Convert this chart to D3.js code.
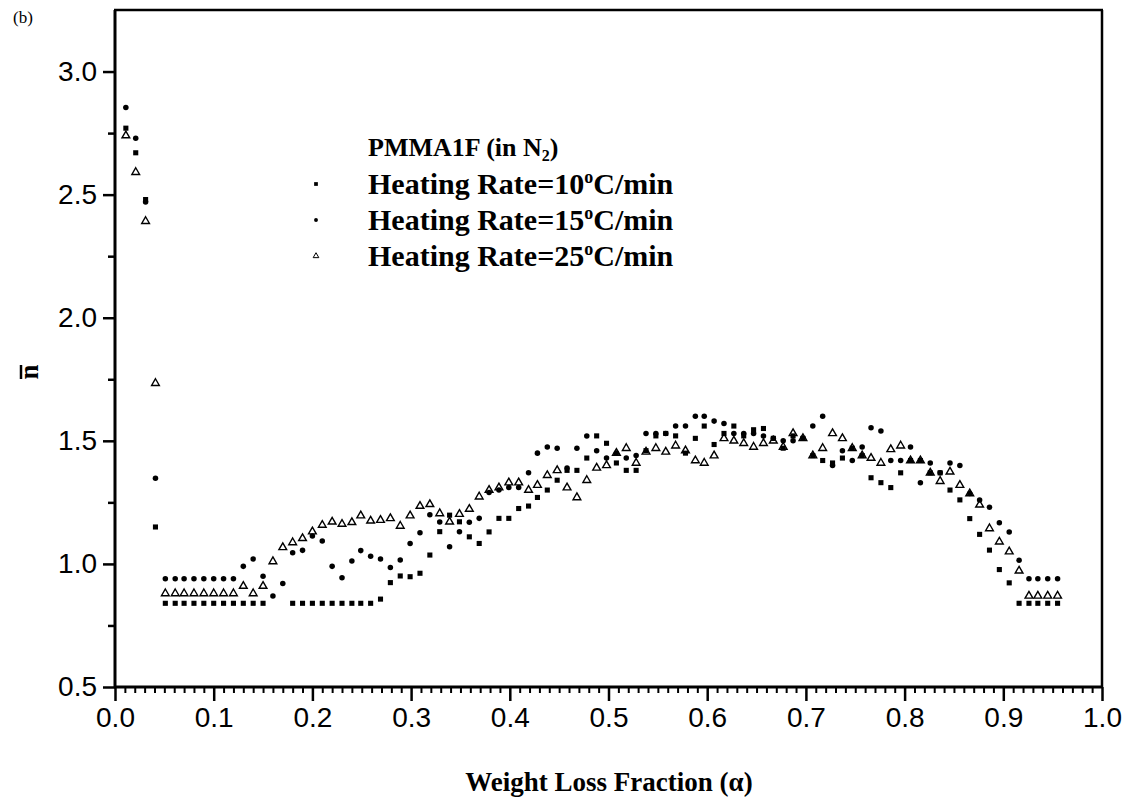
<!DOCTYPE html>
<html><head><meta charset="utf-8">
<script src="https://cdn.jsdelivr.net/npm/d3@7"></script>
<style>body{margin:0;background:#fff}</style>
</head><body><svg id="c" width="1126" height="803"></svg>
<script>
// Weight loss fraction (alpha) sample positions
const alpha = [0.011,0.021,0.031,0.041,0.051,0.061,0.070,0.080,0.090,0.100,
0.110,0.120,0.130,0.140,0.150,0.160,0.170,0.180,0.190,0.200,
0.210,0.220,0.230,0.240,0.249,0.259,0.269,0.279,0.289,0.299,
0.309,0.319,0.329,0.339,0.349,0.359,0.369,0.379,0.389,0.399,
0.409,0.419,0.428,0.438,0.448,0.458,0.468,0.478,0.488,0.498,
0.508,0.518,0.528,0.538,0.548,0.558,0.568,0.578,0.588,0.597,
0.607,0.617,0.627,0.637,0.647,0.657,0.667,0.677,0.687,0.697,
0.707,0.717,0.727,0.737,0.747,0.757,0.766,0.776,0.786,0.796,
0.806,0.816,0.826,0.836,0.846,0.856,0.866,0.876,0.886,0.896,
0.906,0.916,0.926,0.935,0.945,0.955];

// Heating rate 10 C/min (squares)
const rate10 = [2.77,2.67,2.48,1.15,0.84,0.84,0.84,0.84,0.84,0.84,
0.84,0.84,0.84,0.84,0.84,null,null,0.84,0.84,0.84,
0.84,0.84,0.84,0.84,0.84,0.84,0.857,0.924,0.951,0.948,
0.962,1.036,1.131,1.198,1.171,1.11,1.083,1.13,1.185,1.185,
1.225,1.235,1.27,1.30,1.34,1.38,1.38,1.43,1.52,1.49,
1.41,1.38,1.38,1.46,1.52,1.53,1.52,1.45,1.51,1.56,
1.485,1.53,1.56,1.52,1.545,1.55,1.51,1.47,1.52,1.51,
1.44,1.42,1.41,1.43,1.47,1.44,1.35,1.33,1.31,1.37,
1.42,1.42,1.37,1.37,1.30,1.26,1.184,1.12,1.056,0.977,
0.923,0.84,0.84,0.84,0.84,0.84];

// Heating rate 15 C/min (dots)
const rate15 = [2.854,2.729,2.47,1.348,0.94,0.94,0.94,0.94,0.94,0.94,
0.94,0.94,0.99,1.02,0.95,0.87,0.92,1.045,1.055,1.113,
1.093,0.99,0.944,1.012,1.054,1.031,1.02,0.985,1.016,1.083,
1.127,1.20,1.17,1.07,1.131,1.169,1.185,1.29,1.30,1.31,
1.31,1.37,1.45,1.475,1.47,1.39,1.47,1.52,1.46,1.43,
1.45,1.43,1.44,1.53,1.53,1.53,1.56,1.56,1.60,1.60,
1.58,1.57,1.53,1.53,1.53,1.52,1.51,1.50,1.50,1.51,
1.56,1.60,1.40,1.46,1.42,1.475,1.553,1.54,1.42,1.42,
1.475,1.33,1.41,1.37,1.41,1.40,1.286,1.26,1.23,1.167,
1.13,1.015,0.94,0.94,0.94,0.94];

// Heating rate 25 C/min (open triangles)
const rate25 = [2.74,2.591,2.392,1.734,0.88,0.88,0.88,0.88,0.88,0.88,
0.88,0.88,0.91,0.88,0.91,1.01,1.067,1.087,1.104,1.131,
1.158,1.171,1.162,1.169,1.196,1.175,1.178,1.185,1.154,1.196,
1.235,1.242,1.205,1.171,1.202,1.223,1.273,1.30,1.31,1.33,
1.33,1.30,1.32,1.36,1.38,1.31,1.27,1.34,1.39,1.40,
1.45,1.47,1.41,1.455,1.47,1.455,1.48,1.46,1.42,1.41,
1.44,1.51,1.50,1.49,1.475,1.49,1.50,1.475,1.53,1.51,
1.44,1.47,1.53,1.51,1.47,1.44,1.43,1.41,1.465,1.48,
1.42,1.42,1.37,1.336,1.374,1.32,1.286,1.24,1.144,1.09,
1.05,0.972,0.87,0.87,0.87,0.87];

const xTicks = [0.0,0.1,0.2,0.3,0.4,0.5,0.6,0.7,0.8,0.9,1.0];
const yTicks = [0.5,1.0,1.5,2.0,2.5,3.0];
const yMinorTicks = [0.75,1.25,1.75,2.25,2.75];
const legendTitle = "PMMA1F (in N";
const legendRates = ["10","15","25"];

const L = 115, R = 1102, T = 10, B = 687;
const svg = d3.select("#c");
const x = d3.scaleLinear().domain([0,1]).range([L,R]);
const y = d3.scaleLinear().domain([0.5,3.25]).range([B,T]);

const xMinor = d3.range(0,101).map(i=>i/100).filter(v=>Math.round(v*100)%10!==0);

// minor x ticks
const gxm = svg.append("g").attr("transform",`translate(0,${B})`)
  .call(d3.axisBottom(x).tickValues(xMinor).tickSize(6).tickFormat(""));
gxm.select(".domain").remove();
gxm.selectAll("line").attr("stroke","#000").attr("stroke-width",2);

// major x ticks
const gx = svg.append("g").attr("transform",`translate(0,${B})`)
  .call(d3.axisBottom(x).tickValues(xTicks).tickSize(14).tickPadding(6).tickFormat(d3.format(".1f")));
gx.select(".domain").remove();
gx.selectAll("line").attr("stroke","#000").attr("stroke-width",2.5);
gx.selectAll("text").attr("font-family","'Liberation Sans',Arial,sans-serif").attr("font-size",28).attr("fill","#000");

// y minor
const gym = svg.append("g").attr("transform",`translate(${L},0)`)
  .call(d3.axisLeft(y).tickValues(yMinorTicks).tickSize(7).tickFormat(""));
gym.select(".domain").remove();
gym.selectAll("line").attr("stroke","#000").attr("stroke-width",2.5);

const gy = svg.append("g").attr("transform",`translate(${L},0)`)
  .call(d3.axisLeft(y).tickValues(yTicks).tickSize(12).tickPadding(6).tickFormat(d3.format(".1f")));
gy.select(".domain").remove();
gy.selectAll("line").attr("stroke","#000").attr("stroke-width",2.5);
gy.selectAll("text").attr("font-family","'Liberation Sans',Arial,sans-serif").attr("font-size",28).attr("fill","#000");

// frame
svg.append("line").attr("x1",L).attr("x2",L).attr("y1",T).attr("y2",B+1).attr("stroke","#000").attr("stroke-width",3);
svg.append("line").attr("x1",L-1).attr("x2",R+1).attr("y1",B).attr("y2",B).attr("stroke","#000").attr("stroke-width",3);
svg.append("line").attr("x1",L-1).attr("x2",R+1).attr("y1",T).attr("y2",T).attr("stroke","#000").attr("stroke-width",2.5);
svg.append("line").attr("x1",R).attr("x2",R).attr("y1",T).attr("y2",B).attr("stroke","#000").attr("stroke-width",2.5);

// data
const sq = d3.symbol(d3.symbolSquare, 26);
const ci = d3.symbol(d3.symbolCircle, 24);
const tr = d3.symbol(d3.symbolTriangle, 26);
function plot(vals, sym, fill, stroke, sw){
  svg.append("g").selectAll("path")
    .data(alpha.map((a,i)=>[a,vals[i]]).filter(d=>d[1]!=null))
    .join("path")
    .attr("transform",d=>`translate(${x(d[0])},${y(d[1])})`)
    .attr("d",sym).attr("fill",fill).attr("stroke",stroke).attr("stroke-width",sw);
}
plot(rate10, sq, "#000", "none", 0);
plot(rate15, ci, "#000", "none", 0);
plot(rate25, tr, "none", "#000", 1.4);

// legend
const serif = "'Liberation Serif','Times New Roman',serif";
const lt = svg.append("text").attr("x",368).attr("y",156).attr("font-family",serif)
  .attr("font-weight","bold").attr("font-size",26).attr("fill","#000");
lt.append("tspan").text(legendTitle);
lt.append("tspan").attr("font-size",16).attr("dy",5).text("2");
lt.append("tspan").attr("dy",-5).text(")");

const legSyms = [d3.symbol(d3.symbolSquare,14), d3.symbol(d3.symbolCircle,12), d3.symbol(d3.symbolTriangle,14)];
legendRates.forEach((r,i)=>{
  const cy = 184 + i*36;
  svg.append("path").attr("transform",`translate(316,${cy})`).attr("d",legSyms[i]())
    .attr("fill", i===2?"none":"#000").attr("stroke", i===2?"#000":"none").attr("stroke-width",1);
  const t = svg.append("text").attr("x",368).attr("y",cy+10).attr("font-family",serif)
    .attr("font-weight","bold").attr("font-size",30).attr("fill","#000");
  t.append("tspan").text("Heating Rate=" + r);
  t.append("tspan").attr("font-size",18).attr("dy",-11).text("o");
  t.append("tspan").attr("dy",11).text("C/min");
});

// axis titles
svg.append("text").attr("x",609).attr("y",791).attr("text-anchor","middle")
  .attr("font-family",serif).attr("font-weight","bold").attr("font-size",27).attr("fill","#000")
  .text("Weight Loss Fraction (α)");
const yl = svg.append("g").attr("transform","translate(38,372) rotate(-90)");
yl.append("text").attr("x",0).attr("y",0).attr("text-anchor","middle")
  .attr("font-family",serif).attr("font-weight","bold").attr("font-size",27).attr("fill","#000").text("n");
yl.append("line").attr("x1",-7).attr("x2",7).attr("y1",-17).attr("y2",-17).attr("stroke","#000").attr("stroke-width",2.5);

svg.append("text").attr("x",13).attr("y",23).attr("font-family",serif).attr("font-size",17).attr("fill","#000").text("(b)");
</script></body></html>
